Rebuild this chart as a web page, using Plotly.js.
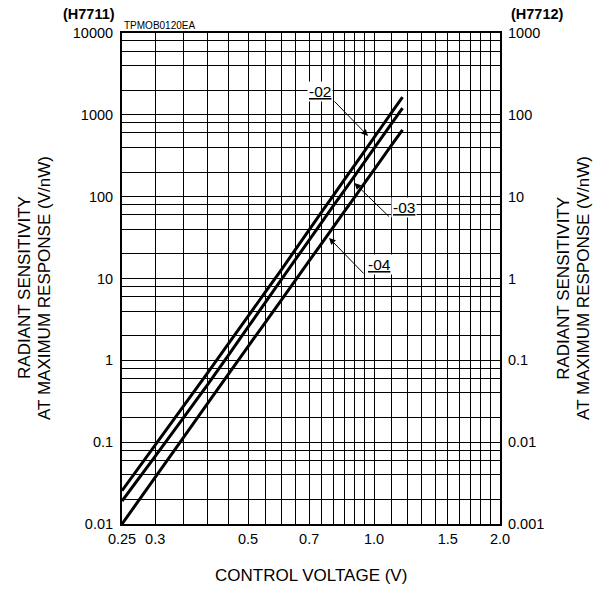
<!DOCTYPE html>
<html><head><meta charset="utf-8">
<script src="https://cdn.plot.ly/plotly-3.0.1.min.js"></script>
<style>html,body{margin:0;padding:0;background:#fff}#chart{width:603px;height:589px}</style>
</head><body><div id="chart"></div>
<script>
// ---- data ----
const voltage = [0.25, 0.3, 0.4, 0.5, 0.6, 0.7, 0.8, 0.9, 1.0, 1.1, 1.17];
const sens02 = [0.0255, 0.092, 0.70, 3.45, 12.7, 39.4, 104, 245, 527, 1054, 1644];
const sens03 = [0.0191, 0.0672, 0.50, 2.54, 9.6, 29.5, 77.6, 181, 389, 775, 1208];
const sens04 = [0.0100, 0.0371, 0.295, 1.47, 5.42, 16.4, 42.8, 99.7, 213, 423, 656];
const seriesNames = ['-02', '-03', '-04'];

// ---- ticks / grid ----
const xGridVals = [0.25,0.3,0.35,0.4,0.45,0.5,0.55,0.6,0.65,0.7,0.75,0.8,0.85,0.9,0.95,1.0,1.1,1.2,1.3,1.4,1.5,1.6,1.7,1.8,1.9,2.0];
const xLabelVals = [0.25, 0.3, 0.5, 0.7, 1.0, 1.5, 2.0];
const xLabelText = ['0.25', '0.3', '0.5', '0.7', '1.0', '1.5', '2.0'];
const yGridVals = [0.01,0.02,0.04,0.06,0.08,0.1,0.2,0.4,0.6,0.8,1,2,4,6,8,10,20,40,60,80,100,200,400,600,800,1000,2000,4000,6000,8000,10000];
const yLeftVals = [0.01, 0.1, 1, 10, 100, 1000, 10000];
const yLeftText = ['0.01', '0.1', '1', '10', '100', '1000', '10000'];
const yRightVals = [0.001, 0.01, 0.1, 1, 10, 100, 1000];
const yRightText = ['0.001', '0.01', '0.1', '1', '10', '100', '1000'];

// ---- series labels (positions in data units) ----
const labelVolt = [0.743, 1.18, 1.028];
const labelSens = [1910, 73.0, 14.7];
const arrowVolt = [0.9675, 0.898, 0.781];
const arrowSens = [553, 147, 31.3];
const arrowDx = [-35, 36, 36];
const arrowDy = [-36, 35, 37];

function labelFor(vals, labels, texts) {
  return vals.map(v => {
    const i = labels.findIndex(l => Math.abs(l - v) < 1e-9);
    return i >= 0 ? texts[i] : '';
  });
}

const FONT = 'Liberation Sans, Arial, sans-serif';
const TICK = 14.5, TITLE = 17;
const seriesVals = [sens02, sens03, sens04];
const traces = seriesVals.map((s, i) => ({
  x: voltage, y: s, type: 'scatter', mode: 'lines', name: seriesNames[i],
  line: {color: '#000', width: 3, shape: 'spline', smoothing: 0.6},
  hoverinfo: 'skip', showlegend: false
}));
// dummy trace for the right axis
traces.push({x: [voltage[0]], y: [yRightVals[0]], yaxis: 'y2', type: 'scatter', mode: 'none', showlegend: false, hoverinfo: 'skip'});

const annotations = [];
seriesNames.forEach((n, i) => {
  annotations.push({
    x: Math.log10(labelVolt[i]), y: Math.log10(labelSens[i]), xref: 'x', yref: 'y',
    text: '<u>' + n + '</u>', showarrow: false, xanchor: 'center', yanchor: 'middle',
    font: {family: FONT, size: 15.5, color: '#000'}, bgcolor: '#fff', borderpad: 1
  });
  annotations.push({
    x: Math.log10(arrowVolt[i]), y: Math.log10(arrowSens[i]), xref: 'x', yref: 'y',
    text: ' ', font: {size: 1}, showarrow: true, ax: arrowDx[i], ay: arrowDy[i],
    arrowhead: 2, arrowsize: 1.3, arrowwidth: 1, arrowcolor: '#000', standoff: 0, startstandoff: 0
  });
});
annotations.push(
  {xref: 'paper', yref: 'paper', x: -0.0873, y: 1.0387, text: '<b>(H7711)</b>', showarrow: false,
   xanchor: 'center', yanchor: 'middle', font: {family: FONT, size: 14.5, color: '#000'}},
  {xref: 'paper', yref: 'paper', x: 1.0979, y: 1.0387, text: '<b>(H7712)</b>', showarrow: false,
   xanchor: 'center', yanchor: 'middle', font: {family: FONT, size: 14.5, color: '#000'}},
  {xref: 'paper', yref: 'paper', x: 0, y: 1.0143, text: 'TPMOB0120EA', showarrow: false,
   xanchor: 'left', yanchor: 'middle', font: {family: FONT, size: 10, color: '#000'}},
  {xref: 'paper', yref: 'paper', x: -0.2566, y: 0.4807, text: 'RADIANT SENSITIVITY', showarrow: false,
   textangle: -90, xanchor: 'center', yanchor: 'middle', font: {family: FONT, size: TITLE, color: '#000'}},
  {xref: 'paper', yref: 'paper', x: -0.2037, y: 0.4807, text: 'AT MAXIMUM RESPONSE (V/nW)', showarrow: false,
   textangle: -90, xanchor: 'center', yanchor: 'middle', font: {family: FONT, size: TITLE, color: '#000'}},
  {xref: 'paper', yref: 'paper', x: 1.169, y: 0.4807, text: 'RADIANT SENSITIVITY', showarrow: false,
   textangle: -90, xanchor: 'center', yanchor: 'middle', font: {family: FONT, size: TITLE, color: '#000'}},
  {xref: 'paper', yref: 'paper', x: 1.222, y: 0.4807, text: 'AT MAXIMUM RESPONSE (V/nW)', showarrow: false,
   textangle: -90, xanchor: 'center', yanchor: 'middle', font: {family: FONT, size: TITLE, color: '#000'}},
  {xref: 'paper', yref: 'paper', x: 0.5, y: -0.1059, text: 'CONTROL VOLTAGE (V)', showarrow: false,
   xanchor: 'center', yanchor: 'middle', font: {family: FONT, size: TITLE, color: '#000'}}
);

const layout = {
  width: 603, height: 589,
  margin: {l: 122, r: 103, t: 33, b: 65, pad: 0},
  paper_bgcolor: '#fff', plot_bgcolor: '#fff',
  font: {family: FONT, size: TICK, color: '#000'},
  showlegend: false,
  xaxis: {
    type: 'log', range: [Math.log10(0.25), Math.log10(2.0)],
    tickmode: 'array', tickvals: xGridVals, ticktext: labelFor(xGridVals, xLabelVals, xLabelText),
    ticks: '', ticklabelstandoff: 1, showgrid: true, gridcolor: '#000', gridwidth: 1,
    showline: true, linecolor: '#000', linewidth: 2, mirror: true, zeroline: false,
    tickfont: {family: FONT, size: TICK, color: '#000'}, fixedrange: true
  },
  yaxis: {
    type: 'log', range: [-2, 4],
    tickmode: 'array', tickvals: yGridVals, ticktext: labelFor(yGridVals, yLeftVals, yLeftText),
    ticks: '', ticklabelstandoff: 4, showgrid: true, gridcolor: '#000', gridwidth: 1,
    showline: true, linecolor: '#000', linewidth: 2, mirror: true, zeroline: false,
    tickfont: {family: FONT, size: TICK, color: '#000'}, fixedrange: true
  },
  yaxis2: {
    type: 'log', range: [-3, 3], overlaying: 'y', side: 'right',
    tickmode: 'array', tickvals: yRightVals, ticktext: yRightText,
    ticks: '', ticklabelstandoff: 7, showgrid: false, showline: false, zeroline: false,
    tickfont: {family: FONT, size: TICK, color: '#000'}, fixedrange: true
  },
  annotations: annotations
};

Plotly.newPlot('chart', traces, layout, {displayModeBar: false, staticPlot: true});
</script>
</body></html>
